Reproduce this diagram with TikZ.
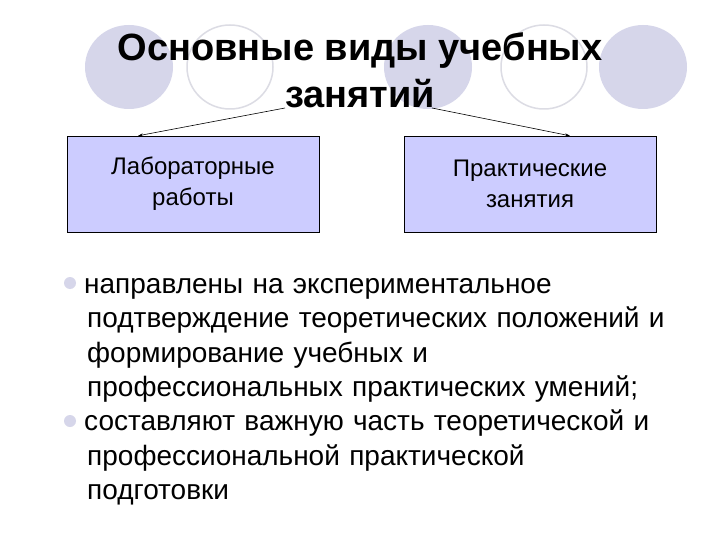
\documentclass[tikz,border=0pt]{standalone}
\usepackage{fontspec}
\setmainfont{Liberation Sans}
\usetikzlibrary{arrows.meta}
\definecolor{lav}{RGB}{214,214,234}
\definecolor{boxf}{RGB}{204,204,255}
\definecolor{ring}{RGB}{220,220,228}
\begin{document}
\begin{tikzpicture}[x=1pt,y=-1pt,
  fe/.style={fill=lav,draw=none},
  re/.style={draw=ring,line width=1.5pt,fill=white},
  bx/.style={draw=black,fill=boxf,minimum width=252pt,minimum height=96pt,align=center,font=\fontsize{24}{31}\selectfont},
  ar/.style={-{Stealth[length=5pt,width=3pt]},line width=0.6pt},
  bl/.style={anchor=north west,align=left,font=\fontsize{28}{34.5}\selectfont,text width=640pt,inner sep=0pt}]
\useasboundingbox (0,0) rectangle (720,540);
\fill[white] (0,0) rectangle (720,540);
\path[fe] (129,67) ellipse [x radius=44,y radius=42];
\path[re] (230,67) ellipse [x radius=43,y radius=42];
\path[fe] (428,67) ellipse [x radius=44,y radius=42];
\path[re] (544,67) ellipse [x radius=43,y radius=42];
\path[fe] (643,67) ellipse [x radius=44,y radius=42];
\node[font=\bfseries\fontsize{38}{47}\selectfont,align=center] (t) at (360,70) {Основные виды учебных\\занятий};
\coordinate (tl) at (285,108);
\coordinate (tr) at (432,108);
\node[bx] (a) at (193,184) {Лабораторные\\работы};
\node[bx] (b) at (530,184) {Практические\\занятия};
\draw[ar] (tl) -- (a.north west -| 138,0);
\draw[ar] (tr) -- (b.north west -| 570,0);
\fill[lav] (70,283) circle (6);
\fill[lav] (70,421) circle (6);
\node[bl] (p1) at (84,278) {направлены на экспериментальное\\\hspace*{3pt}подтверждение теоретических положений и\\\hspace*{3pt}формирование учебных и\\\hspace*{3pt}профессиональных практических умений;};
\node[bl] (p2) at (84,410) {составляют важную часть теоретической и\\\hspace*{3pt}профессиональной практической\\\hspace*{3pt}подготовки};
\end{tikzpicture}
\end{document}
